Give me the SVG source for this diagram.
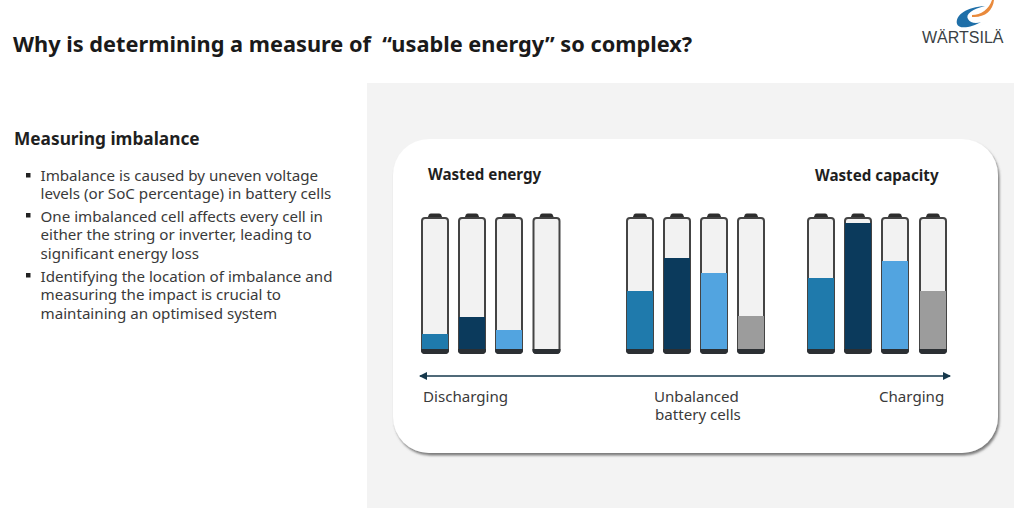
<svg xmlns="http://www.w3.org/2000/svg" width="1014" height="508" viewBox="0 0 1014 508">
<style>
text{font-family:"Noto Sans","Open Sans",sans-serif;fill:#2b2b2b}
.title{font-size:21.75px;font-weight:700;fill:#1a1a1a;white-space:pre}
.head{font-size:17.3px;font-weight:700;fill:#1f1f1f}
.sub{font-size:15.2px;font-weight:700;fill:#1f1f1f}
.body{font-size:15.15px;fill:#3a3a3a}
.lab{font-size:15.1px;fill:#3a3a3a}
.shell{fill:#f2f2f2;stroke:#444;stroke-width:2}
.cap{fill:#2d2d2d}
.base{fill:#2b2f33}
.bul{fill:#222}
.mid{fill:#1f7aac}.dark{fill:#0b3a5c}.light{fill:#52a4e0}.grey{fill:#9c9c9c}
</style>
<defs>
<marker id="ah" viewBox="0 0 8 8" refX="7" refY="4" markerWidth="8" markerHeight="8" markerUnits="userSpaceOnUse" orient="auto-start-reverse"><path d="M0 0L8 4L0 8Z" fill="#16384c"/></marker>
<filter id="sh" x="-5%" y="-5%" width="110%" height="110%"><feDropShadow dx="1.500" dy="2.500" stdDeviation="1.300" flood-color="#666" flood-opacity=".85"/></filter>
<path id="body" d="M3 0H23Q26 0 26 3V132Q26 135 23 135H3Q0 135 0 132V3Q0 0 3 0Z"/>
<path id="bat" class="cap" d="M5 1L7 -3.500Q7.500 -4.500 9 -4.500H17Q18.500 -4.500 19 -3.500L21 1Z"/>
</defs>
<rect width="1014" height="508" fill="#fff"/>
<rect x="367" y="83" width="647" height="425" fill="#f3f3f3"/>
<g id="header">
<text class="title" x="13" y="52" xml:space="preserve">Why is determining a measure of  “usable energy” so complex?</text>
</g>
<g id="logo">
<path d="M957 24C955 15 967 7 985 6C973 9 965 14 968 19C970 23 976 24 981 22C973 27 959 30 957 24Z" fill="#1f6fa8"/>
<path d="M972 15C981 15 989 9 992 0L994 0C993 11 984 18 972 17Z" fill="#e98a3c"/>
<text x="922" y="43" font-size="16" style="font-family:'Liberation Sans',sans-serif;fill:#3a3f44">WÄRTSILÄ</text>
</g>
<g id="text-panel">
<text class="head" x="14" y="144.500">Measuring imbalance</text>
<rect class="bul" x="26" y="173" width="4.500" height="4.500"/>
<text class="body" x="40.500" y="181">Imbalance is caused by uneven voltage</text>
<text class="body" x="40.500" y="199">levels (or SoC percentage) in battery cells</text>
<rect class="bul" x="26" y="213" width="4.500" height="4.500"/>
<text class="body" x="40.500" y="222">One imbalanced cell affects every cell in</text>
<text class="body" x="40.500" y="240">either the string or inverter, leading to</text>
<text class="body" x="40.500" y="259">significant energy loss</text>
<rect class="bul" x="26" y="273" width="4.500" height="4.500"/>
<text class="body" x="40.500" y="282">Identifying the location of imbalance and</text>
<text class="body" x="40.500" y="300">measuring the impact is crucial to</text>
<text class="body" x="40.500" y="319">maintaining an optimised system</text>
</g>
<g id="card">
<rect x="393" y="139" width="605" height="314" rx="36" fill="#fff" filter="url(#sh)"/>
<text class="sub" x="428" y="180">Wasted energy</text>
<text class="sub" x="815" y="181">Wasted capacity</text>
</g>
<g id="batteries">
<g id="b1" transform="translate(422 218)"><use href="#bat"/><use href="#body" class="shell"/><path class="mid" d="M0 116H26V131a4 4 0 0 1-4 4H4a4 4 0 0 1-4-4Z"/><path class="base" d="M-1 131H27V132a4 4 0 0 1-4 4H3a4 4 0 0 1-4-4Z"/></g>
<g id="b2" transform="translate(459 218)"><use href="#bat"/><use href="#body" class="shell"/><path class="dark" d="M0 99H26V131a4 4 0 0 1-4 4H4a4 4 0 0 1-4-4Z"/><path class="base" d="M-1 131H27V132a4 4 0 0 1-4 4H3a4 4 0 0 1-4-4Z"/></g>
<g id="b3" transform="translate(496 218)"><use href="#bat"/><use href="#body" class="shell"/><path class="light" d="M0 112H26V131a4 4 0 0 1-4 4H4a4 4 0 0 1-4-4Z"/><path class="base" d="M-1 131H27V132a4 4 0 0 1-4 4H3a4 4 0 0 1-4-4Z"/></g>
<g id="b4" transform="translate(533.500 218)"><use href="#bat"/><use href="#body" class="shell"/><path class="base" d="M-1 131H27V132a4 4 0 0 1-4 4H3a4 4 0 0 1-4-4Z"/></g>
<g id="b5" transform="translate(627 218)"><use href="#bat"/><use href="#body" class="shell"/><path class="mid" d="M0 73H26V131a4 4 0 0 1-4 4H4a4 4 0 0 1-4-4Z"/><path class="base" d="M-1 131H27V132a4 4 0 0 1-4 4H3a4 4 0 0 1-4-4Z"/></g>
<g id="b6" transform="translate(664 218)"><use href="#bat"/><use href="#body" class="shell"/><path class="dark" d="M0 40H26V131a4 4 0 0 1-4 4H4a4 4 0 0 1-4-4Z"/><path class="base" d="M-1 131H27V132a4 4 0 0 1-4 4H3a4 4 0 0 1-4-4Z"/></g>
<g id="b7" transform="translate(701 218)"><use href="#bat"/><use href="#body" class="shell"/><path class="light" d="M0 55H26V131a4 4 0 0 1-4 4H4a4 4 0 0 1-4-4Z"/><path class="base" d="M-1 131H27V132a4 4 0 0 1-4 4H3a4 4 0 0 1-4-4Z"/></g>
<g id="b8" transform="translate(738 218)"><use href="#bat"/><use href="#body" class="shell"/><path class="grey" d="M0 98H26V131a4 4 0 0 1-4 4H4a4 4 0 0 1-4-4Z"/><path class="base" d="M-1 131H27V132a4 4 0 0 1-4 4H3a4 4 0 0 1-4-4Z"/></g>
<g id="b9" transform="translate(808 218)"><use href="#bat"/><use href="#body" class="shell"/><path class="mid" d="M0 60H26V131a4 4 0 0 1-4 4H4a4 4 0 0 1-4-4Z"/><path class="base" d="M-1 131H27V132a4 4 0 0 1-4 4H3a4 4 0 0 1-4-4Z"/></g>
<g id="b10" transform="translate(845 218)"><use href="#bat"/><use href="#body" class="shell"/><path class="dark" d="M0 5H26V131a4 4 0 0 1-4 4H4a4 4 0 0 1-4-4Z"/><path class="base" d="M-1 131H27V132a4 4 0 0 1-4 4H3a4 4 0 0 1-4-4Z"/></g>
<g id="b11" transform="translate(882 218)"><use href="#bat"/><use href="#body" class="shell"/><path class="light" d="M0 43H26V131a4 4 0 0 1-4 4H4a4 4 0 0 1-4-4Z"/><path class="base" d="M-1 131H27V132a4 4 0 0 1-4 4H3a4 4 0 0 1-4-4Z"/></g>
<g id="b12" transform="translate(920 218)"><use href="#bat"/><use href="#body" class="shell"/><path class="grey" d="M0 73H26V131a4 4 0 0 1-4 4H4a4 4 0 0 1-4-4Z"/><path class="base" d="M-1 131H27V132a4 4 0 0 1-4 4H3a4 4 0 0 1-4-4Z"/></g>
</g>
<g id="connectors">
<line x1="420" y1="376" x2="950" y2="376" stroke="#16384c" stroke-width="1.400" marker-start="url(#ah)" marker-end="url(#ah)"/>
</g>
<g id="labels">
<text class="lab" x="423" y="402">Discharging</text>
<text class="lab" x="654" y="402">Unbalanced</text>
<text class="lab" x="655" y="420">battery cells</text>
<text class="lab" x="879" y="402">Charging</text>
</g>
</svg>
